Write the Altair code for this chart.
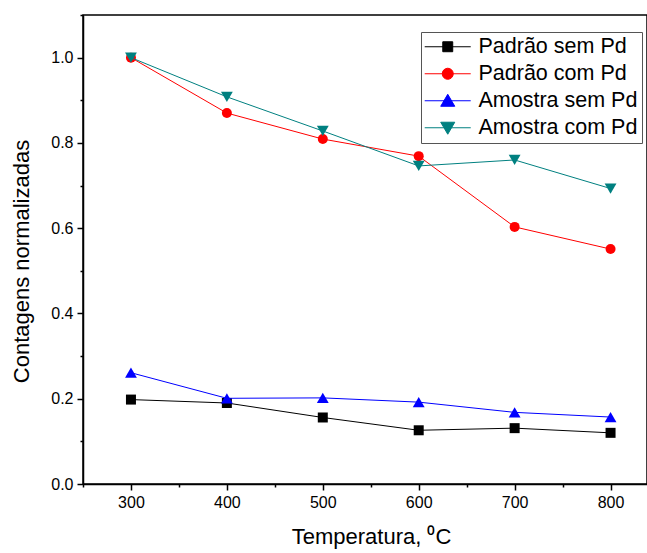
import altair as alt
import pandas as pd

temps = [300, 400, 500, 600, 700, 800]
padrao_sem = [0.198, 0.190, 0.156, 0.126, 0.131, 0.120]
padrao_com = [1.000, 0.870, 0.809, 0.769, 0.603, 0.551]
amostra_sem = [0.261, 0.201, 0.202, 0.192, 0.168, 0.157]
amostra_com = [1.000, 0.908, 0.828, 0.746, 0.760, 0.693]

series_names = ["Padrão sem Pd", "Padrão com Pd", "Amostra sem Pd", "Amostra com Pd"]
series_values = [padrao_sem, padrao_com, amostra_sem, amostra_com]
colors = ["#000000", "#ff0000", "#0000ff", "#008080"]
shapes = ["square", "circle", "triangle-up", "triangle-down"]
sizes = [100, 100, 140, 140]
legend_paths = [
    "M-1.84,0H5.83M1.17,-0.83H2.83V0.83H1.17Z",
    "M-1.84,0H5.83M1.08,0A0.92,0.92,0,1,0,2.92,0A0.92,0.92,0,1,0,1.08,0Z",
    "M-1.84,0H5.83M2.0,-1.08L3.17,0.92H0.83Z",
    "M-1.84,0H5.83M0.83,-0.92H3.17L2.0,1.08Z",
]

rows = []
for name, vals in zip(series_names, series_values):
    for t, v in zip(temps, vals):
        rows.append({"temp": t, "value": v, "series": name})
df = pd.DataFrame(rows)

FONT = "Liberation Sans"

x_enc = alt.X(
    "temp:Q",
    scale=alt.Scale(domain=[250, 838], nice=False, zero=False),
    axis=alt.Axis(
        title="Temperatura, ⁰C",
        values=list(range(250, 801, 50)),
        labelExpr="(datum.value % 100 === 0 && datum.value >= 300) ? datum.value : ''",
        tickSize={"condition": {"test": "datum.value % 100 === 0", "value": 6}, "value": 3},
        labelFlush=False,
        labelOverlap=False,
        labelPadding=4,
        titlePadding=16,
        titleX=288,
    ),
)
y_enc = alt.Y(
    "value:Q",
    scale=alt.Scale(domain=[0, 1.1], nice=False, zero=False),
    axis=alt.Axis(
        title="Contagens normalizadas",
        values=[round(i * 0.1, 1) for i in range(12)],
        labelExpr="(round(datum.value*10) % 2 === 0) ? format(datum.value, '.1f') : ''",
        tickSize={"condition": {"test": "round(datum.value*10) % 2 === 0", "value": 6}, "value": 3},
        labelOverlap=False,
        labelPadding=4,
        titlePadding=17,
        titleY=246,
    ),
)

base = alt.Chart(df)
layers = []
for name, c, sh, sz in zip(series_names, colors, shapes, sizes):
    sub = base.transform_filter(alt.datum.series == name)
    layers.append(sub.mark_line(color=c, strokeWidth=1).encode(x=x_enc, y=y_enc))
    layers.append(
        sub.mark_point(shape=sh, filled=True, size=sz, color=c, opacity=1, strokeWidth=0).encode(
            x=x_enc, y=y_enc
        )
    )

leg = alt.Legend(
    title=None,
    orient="none",
    legendX=338,
    legendY=17,
    strokeColor="#555555",
    fillColor="white",
    padding=4,
    labelFont=FONT,
    labelFontSize=21.5,
    labelColor="black",
    labelLimit=400,
    labelOffset=32,
    symbolSize=144,
    symbolStrokeWidth=1,
    rowPadding=4,
)
legend_layer = base.transform_filter("datum.temp < 0").mark_point(
    filled=True, opacity=1, strokeWidth=1
).encode(
    x=x_enc,
    y=y_enc,
    color=alt.Color("series:N", scale=alt.Scale(domain=series_names, range=colors), legend=leg),
    stroke=alt.Stroke("series:N", scale=alt.Scale(domain=series_names, range=colors), legend=leg),
    shape=alt.Shape("series:N", scale=alt.Scale(domain=series_names, range=legend_paths), legend=leg),
)
layers.append(legend_layer)

chart = (
    alt.layer(*layers)
    .properties(
        width=564,
        height=469,
        autosize=alt.AutoSizeParams(type="none"),
        padding={"left": 83, "top": 15, "right": 0, "bottom": 69},
        background="white",
    )
    .configure_view(stroke="black", strokeWidth=1.5)
    .configure_axis(
        grid=False,
        domainColor="black",
        domainWidth=1.5,
        tickColor="black",
        tickWidth=1.5,
        labelFont=FONT,
        labelFontSize=16,
        labelColor="black",
        titleFont=FONT,
        titleFontSize=22,
        titleFontWeight="normal",
        titleColor="black",
    )
)

chart.save("out.html", embed_options={"renderer": "svg", "actions": False})
